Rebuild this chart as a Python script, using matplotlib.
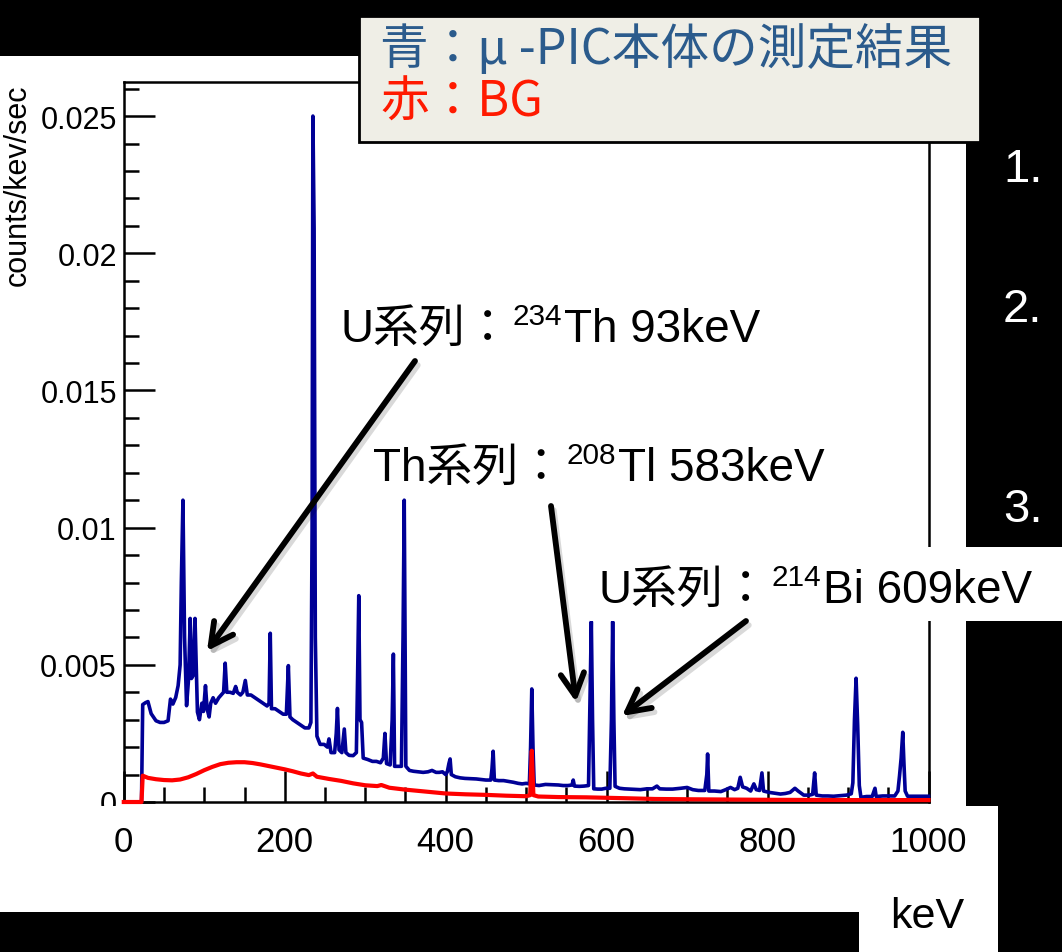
"""Gamma spectrum of the u-PIC body (blue) against background (red), slide crop."""
import matplotlib
matplotlib.use("Agg")
import matplotlib.pyplot as plt
import matplotlib.patheffects as pe
from matplotlib.patches import Rectangle, FancyArrowPatch, ArrowStyle
from matplotlib.ticker import MultipleLocator
from matplotlib.transforms import blended_transform_factory

# spectrum (keV, counts/keV/sec)
BLUE_E = [0, 22, 23.5, 27, 30, 34, 40, 45, 50, 55, 58, 61, 64.5, 67.5, 70, 71.5, 73.5, 75.5, 78,
          80.5, 82.5, 84, 86, 88.5, 90, 91.5, 94, 97, 99, 101.5, 103.5, 106, 108, 111, 114, 118,
          121, 124, 126, 128, 132, 136, 139, 141, 145, 148, 151, 153.5, 158, 163, 168, 173, 178,
          180.5, 182, 183.5, 188, 193, 198, 202, 204.5, 206.5, 210, 215, 220, 225, 230, 232.5,
          234, 235, 236.5, 238, 240, 244, 249, 253, 255, 257.5, 262, 264, 265.5, 267.5, 271, 274,
          276, 280, 285, 289, 290.5, 292, 293.5, 295.5, 297.5, 303, 309, 314, 319, 322.5, 324.5,
          326.5, 331, 333.5, 335, 336.5, 341, 345, 347, 348.5, 350.5, 355, 360, 366, 372, 378,
          383, 388, 392, 396, 400, 402, 404, 405.5, 407, 412, 418, 424, 431, 438, 444, 450, 456,
          457.5, 459, 460.5, 466, 472, 478, 484, 490, 495, 500, 504, 505.5, 507, 508.5, 510, 516,
          524, 532, 540, 546, 552, 557, 558.5, 560, 566, 572, 577.5, 579.5, 581, 582.5, 584,
          589, 594, 599, 604, 606, 607.5, 609, 610.5, 616, 622, 628, 634, 642, 650, 657, 662.5,
          666, 674, 682, 692, 700, 707, 714, 722, 724.5, 725.5, 727, 734, 742, 748, 754, 759,
          763, 766, 769, 774, 779, 783, 786, 790, 793, 795, 802, 809, 816, 822, 828, 834, 838,
          845, 852, 856, 858.5, 860.5, 868, 875, 882, 890, 898, 904, 906, 908, 910, 912, 914, 916,
          923, 930, 933.5, 935, 943, 951, 958, 962, 964, 966, 968, 969.5, 971, 974, 983, 992,
          1000]
BLUE_V = [0, 0, 0.00355, 0.00362, 0.00366, 0.00322, 0.00296, 0.0029, 0.0029, 0.00296, 0.00375,
          0.00357, 0.00381, 0.00424, 0.005, 0.008, 0.011, 0.006, 0.00351, 0.0045, 0.00669,
          0.0045, 0.0046, 0.00669, 0.005, 0.00328, 0.0030, 0.0036, 0.0033, 0.00424, 0.0034,
          0.0031, 0.0036, 0.0038, 0.0036, 0.0038, 0.0039, 0.004, 0.00506, 0.004, 0.004, 0.00396,
          0.00421, 0.004, 0.0039, 0.004, 0.00443, 0.0039, 0.0039, 0.0038, 0.0037, 0.0036,
          0.0035, 0.0036, 0.00615, 0.0034, 0.0034, 0.0033, 0.0032, 0.0032, 0.00497, 0.0031,
          0.003, 0.0029, 0.0028, 0.0027, 0.0027, 0.0029, 0.01, 0.025, 0.0209, 0.006, 0.0024,
          0.0021, 0.0021, 0.002, 0.0023, 0.0018, 0.0018, 0.0025, 0.00341, 0.0019, 0.0018,
          0.00266, 0.0018, 0.0017, 0.00169, 0.0018, 0.0045, 0.00752, 0.003, 0.0029, 0.0016,
          0.00155, 0.00148, 0.00148, 0.00143, 0.0016, 0.0025, 0.0014, 0.00135, 0.003, 0.00539,
          0.0013, 0.0013, 0.0013, 0.006, 0.011, 0.0013, 0.00115, 0.00112, 0.0011, 0.00108,
          0.0011, 0.00115, 0.00108, 0.00108, 0.0011, 0.001, 0.0011, 0.0014, 0.00157, 0.001,
          0.00092, 0.00088, 0.00086, 0.00085, 0.00084, 0.00082, 0.0008, 0.0008, 0.0012, 0.00185,
          0.0008, 0.00078, 0.00078, 0.00075, 0.00072, 0.00068, 0.00066, 0.00068, 0.00066, 0.002,
          0.00412, 0.002, 0.00062, 0.0006, 0.00064, 0.00063, 0.00062, 0.0006, 0.0006, 0.00062,
          0.0008, 0.00058, 0.00057, 0.00058, 0.0006, 0.004, 0.00657, 0.003, 0.00048, 0.00047,
          0.00047, 0.0005, 0.0005, 0.003, 0.00657, 0.003, 0.00057, 0.0005, 0.00048, 0.00047,
          0.00046, 0.00045, 0.00048, 0.00048, 0.00058, 0.00048, 0.00047, 0.00047, 0.0005,
          0.00053, 0.00045, 0.00042, 0.00042, 0.001, 0.00175, 0.0004, 0.0004, 0.00038, 0.00045,
          0.00053, 0.00045, 0.0005, 0.0009, 0.00055, 0.0005, 0.0004, 0.00066, 0.00045, 0.00042,
          0.00106, 0.0004, 0.00035, 0.00032, 0.00029, 0.00031, 0.00035, 0.0005, 0.0004,
          0.00025, 0.00025, 0.00028, 0.00106, 0.00025, 0.00022, 0.00022, 0.00021, 0.00023,
          0.00025, 0.0003, 0.0007, 0.003, 0.00451, 0.0028, 0.0006, 0.00017, 0.0002, 0.0002,
          0.0005, 0.0002, 0.00022, 0.00022, 0.00022, 0.0004, 0.00096, 0.0016, 0.00254, 0.0014,
          0.0004, 0.00021, 0.00021, 0.00021, 0.00021]

RED_E = [0, 22, 23.5, 30, 40, 50, 60, 70, 80, 90, 100, 110, 120, 130, 140, 150, 160, 170, 180,
         190, 200, 210, 220, 230, 235, 240, 255, 270, 285, 300, 315, 320, 330, 350, 375, 400,
         425, 450, 475, 500, 505, 507, 509, 515, 540, 575, 620, 660, 700, 750, 800, 900, 1000]
RED_V = [0, 0, 0.00096, 0.00088, 0.00083, 0.0008, 0.00079, 0.00082, 0.0009, 0.00102, 0.00116,
         0.00128, 0.00138, 0.00143, 0.00145, 0.00145, 0.00142, 0.00137, 0.00131, 0.00125,
         0.00119, 0.00112, 0.00104, 0.00098, 0.00104, 0.00092, 0.00084, 0.00077, 0.00068,
         0.00061, 0.00058, 0.00062, 0.00052, 0.00045, 0.00038, 0.00031, 0.00028, 0.00026,
         0.00023, 0.00021, 0.00025, 0.00187, 0.00025, 0.0002, 0.00018, 0.00017, 0.00014,
         0.00011, 0.0001, 0.00009, 0.00008, 0.00007, 0.00007]

YTICKS = [0, 0.005, 0.01, 0.015, 0.02, 0.025]
YTICK_LABELS = ["0", "0.005", "0.01", "0.015", "0.02", "0.025"]
XTICKS = [0, 200, 400, 600, 800, 1000]
XTICK_LABELS = ["0", "200", "400", "600", "800", "1000"]
YLABEL = "counts/kev/sec"
XLABEL = "keV"
LEGEND_LINES = [("青：μ -PIC本体の測定結果", "#2b5b8c"), ("赤：BG", "#ff1a00")]
ANNOTS = [
    [("U系列：", False), ("234", True), ("Th 93keV", False)],
    [("Th系列：", False), ("208", True), ("Tl 583keV", False)],
    [("U系列：", False), ("214", True), ("Bi 609keV", False)],
]
SIDE_NUMS = ["1.", "2.", "3."]

W, H = 1062, 953
SANS = ["Liberation Sans", "Noto Sans CJK JP", "DejaVu Sans"]
NARROW = ["Liberation Sans Narrow", "Liberation Sans"]
plt.rcParams["font.family"] = SANS


def fx(x):
    return x / W


def fy(y):
    return 1 - y / H


fig = plt.figure(figsize=(W / 100, H / 100), dpi=100, facecolor="black")


def box(x0, y0, x1, y1, z, **kw):
    kw.setdefault("facecolor", "white")
    kw.setdefault("linewidth", 0)
    fig.add_artist(Rectangle((fx(x0), fy(y1)), (x1 - x0) / W, (y1 - y0) / H,
                             transform=fig.transFigure, zorder=z, **kw))


# white slide panels behind / over the plot
box(0, 57, 966, 807, -5)
box(0, 807, 998, 913, 5)
box(859, 913, 998, 953, 5)
box(590, 548, 1062, 622, 5)
box(359, 17, 980, 143, 6, facecolor="#efeee6", edgecolor="black", linewidth=2)

ax = fig.add_axes([fx(123.8), fy(803), (928.5 - 123.8) / W, (803 - 82.5) / H])
ax.plot(BLUE_E, BLUE_V, color="#000096", lw=2.6, zorder=3, clip_on=False)
ax.plot(RED_E, RED_V, color="#ff0000", lw=3.0, zorder=3, clip_on=False)
ax.set_xlim(0, 1000)
ax.set_ylim(0, 0.02626)
ax.set_yticks(YTICKS, YTICK_LABELS)
ax.set_xticks(XTICKS)
ax.xaxis.set_minor_locator(MultipleLocator(50))
ax.yaxis.set_minor_locator(MultipleLocator(0.001))
ax.tick_params(which="both", direction="in", width=1.8, top=False, right=False,
               labelbottom=False, labelsize=22, pad=5)
ax.tick_params(which="major", length=22)
ax.tick_params(which="minor", length=11)
for sp in ax.spines.values():
    sp.set_linewidth(1.8)

fig.text(fx(18), fy(85), YLABEL, rotation=90, ha="center", va="top", fontsize=22)

trans = blended_transform_factory(ax.transData, fig.transFigure)
for v, lab in zip(XTICKS, XTICK_LABELS):
    fig.text(v, fy(843), lab, transform=trans, ha="center", va="center",
             fontsize=25, family=NARROW, zorder=7)
fig.text(fx(927), fy(917), XLABEL, ha="center", va="center", fontsize=31,
         family=NARROW, zorder=7)

for (txt, col), yc in zip(LEGEND_LINES, [50, 103]):
    fig.text(fx(380), fy(yc), txt, color=col, ha="left", va="center", fontsize=35,
             family=["Noto Sans CJK JP", "DejaVu Sans"], zorder=7)

rend = fig.canvas.get_renderer()


def rich(x, ybase, pieces, size=33):
    cur = x
    for s, sup in pieces:
        fs = size * 0.65 if sup else size
        yy = ybase - (0.38 * size * 100 / 72 if sup else 0)
        t = fig.text(fx(cur), fy(yy), s, fontsize=fs, ha="left", va="baseline",
                     color="black", zorder=7)
        cur = t.get_window_extent(rend).x1 + 2


for pieces, (x0, yb) in zip(ANNOTS, [(340, 342), (373, 481), (599, 603)]):
    rich(x0, yb, pieces)

for num, yb in zip(SIDE_NUMS, [182, 322, 522]):
    fig.text(fx(1003), fy(yb), num, color="white", ha="left", va="baseline", fontsize=34)

style = ArrowStyle("->", head_length=0.8, head_width=0.42)
for (xa, ya), (xb, yb) in [((415, 362), (207, 652)), ((551, 507), (576, 703)),
                           ((746, 622), (622, 717))]:
    arr = FancyArrowPatch((fx(xa), fy(ya)), (fx(xb), fy(yb)), transform=fig.transFigure,
                          arrowstyle=style, mutation_scale=20, lw=4.2, color="black",
                          shrinkA=0, shrinkB=0, zorder=8)
    arr.set_path_effects([pe.SimpleLineShadow(offset=(2, -3), shadow_color="k", alpha=0.15),
                          pe.Normal()])
    fig.add_artist(arr)

fig.savefig("out.png", dpi=100, facecolor="black")
